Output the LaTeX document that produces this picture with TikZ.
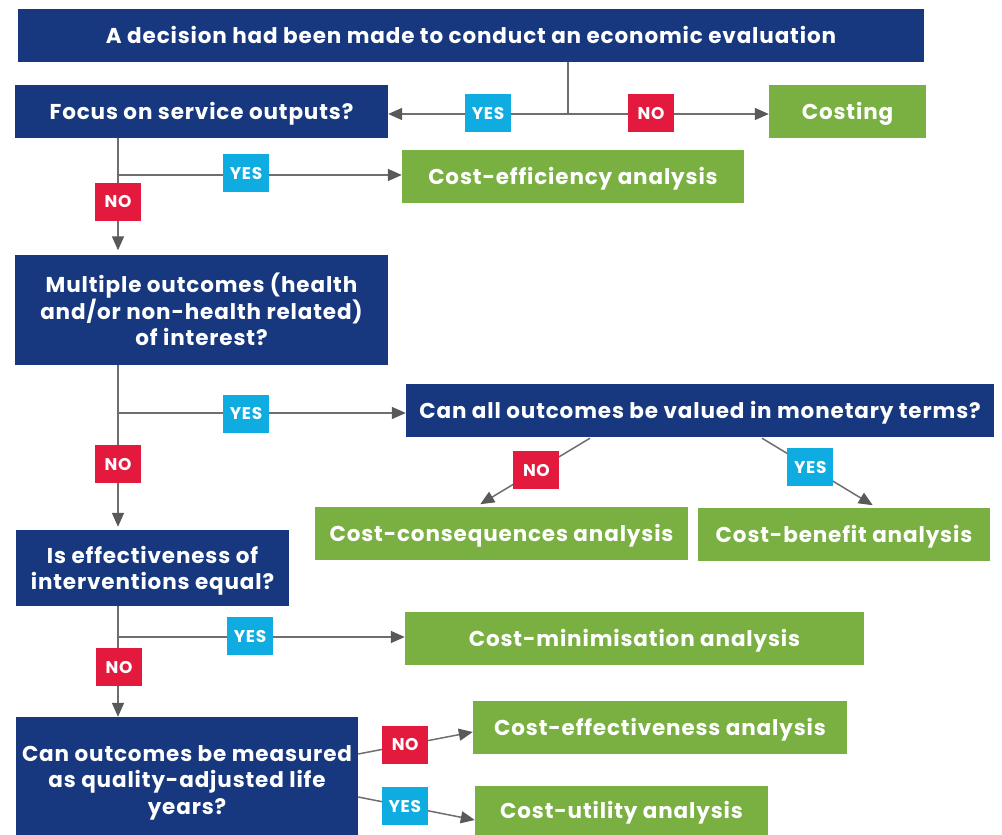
\documentclass[tikz,border=0pt]{standalone}
\usepackage{fontspec}
\setmainfont{Poppins}[LetterSpace=4]
\usetikzlibrary{arrows.meta}
\definecolor{navy}{HTML}{17387E}
\definecolor{leaf}{HTML}{7AB042}
\definecolor{redtag}{HTML}{E3193E}
\definecolor{cyantag}{HTML}{0FACE1}
\definecolor{wire}{HTML}{6E6E6E}
\definecolor{tip}{HTML}{58595B}
\tikzset{
  boxtext/.style={font=\bfseries\fontsize{21.5}{26.5}\selectfont, text=white, align=center,
    inner sep=0pt},
  oneline/.style={text height=15pt, text depth=0pt},
  % height of the text block, from top of first capitals to last baseline
  textblock/.style={text height=#1, text depth=0pt},
  question/.style={boxtext, fill=navy},
  result/.style={boxtext, oneline, fill=leaf},
  tag/.style={font=\bfseries\fontsize{17}{18}\selectfont, text=white, inner sep=0pt,
    text height=12pt, text depth=0pt, minimum width=46pt, minimum height=38pt},
  yestag/.style={tag, fill=cyantag},
  notag/.style={tag, fill=redtag},
  wirestyle/.style={draw=wire, line width=1.5pt},
  arr/.style={wirestyle, -{Triangle[length=14pt,width=12pt,fill=tip,color=tip]}},
}
\begin{document}
\begin{tikzpicture}[x=1pt,y=-1pt]
\useasboundingbox (0,0) rectangle (1002,835);

% decision boxes
\node[question, oneline, minimum width=906pt, minimum height=53pt] (top) at (471,35.5)
  {A decision had been made to conduct an economic evaluation};
\node[question, oneline, minimum width=373pt, minimum height=53pt] (focus) at (201.5,111.5)
  {Focus on service outputs?};
\node[question, textblock=72pt, minimum width=373pt, minimum height=110pt] (multi) at (201.5,309.5)
  {Multiple outcomes (health\\and/or non-health related)\\of interest?};
\node[question, oneline, minimum width=588pt, minimum height=53pt] (monet) at (700,410.5)
  {Can all outcomes be valued in monetary terms?};
\node[question, textblock=43.5pt, minimum width=273pt, minimum height=76pt] (equal) at (152.5,568)
  {Is effectiveness of\\interventions equal?};
\node[question, textblock=76pt, minimum width=342pt, minimum height=118pt] (qaly) at (187,776)
  {Can outcomes be measured\\as quality-adjusted life\\years?};

% analysis types
\node[result, minimum width=157pt, minimum height=53pt] (costing) at (847.5,111.5) {Costing};
\node[result, minimum width=342pt, minimum height=53pt] (effic) at (573,176.5) {Cost-efficiency analysis};
\node[result, minimum width=373pt, minimum height=53pt] (conseq) at (501.5,533.5) {Cost-consequences analysis};
\node[result, minimum width=292pt, minimum height=53pt] (benefit) at (844,534.5) {Cost-benefit analysis};
\node[result, minimum width=459pt, minimum height=53pt] (minim) at (634.5,638.5) {Cost-minimisation analysis};
\node[result, minimum width=374pt, minimum height=53pt] (effect) at (660,727.5) {Cost-effectiveness analysis};
\node[result, minimum width=293pt, minimum height=50pt] (utility) at (621.5,811) {Cost-utility analysis};

% junction points on the trunk lines
\coordinate (j1) at (568,114);
\coordinate (j2) at (118,175);
\coordinate (j3) at (118,413);
\coordinate (j4) at (118,637);

% first split
\draw[wirestyle] (top.south -| j1) -- (j1);
\draw[arr] (j1) -- (j1 -| focus.east);
\draw[arr] (j1) -- (j1 -| costing.west);
\node[yestag] (y1) at (488,113) {YES};
\node[notag] (n1) at (651,113) {NO};

% service outputs
\draw[arr, shorten >=4pt] (focus.south -| j2) -- (multi.north -| j2);
\draw[arr] (j2) -- (j2 -| effic.west);
\node[yestag] (y2) at (246,173) {YES};
\node[notag] (n2) at (118,201.5) {NO};

% multiple outcomes
\draw[arr, shorten >=3pt] (multi.south -| j3) -- (equal.north -| j3);
\draw[arr] (j3) -- (j3 -| monet.west);
\node[yestag] (y3) at (246,413.5) {YES};
\node[notag] (n3) at (118,464) {NO};

% monetary valuation
\draw[arr, shorten >=5pt] ([xshift=-110pt,yshift=-1pt]monet.south) -- ([xshift=-25.5pt]conseq.north)
  node[notag, pos=0.47] (n4) {NO};
\draw[arr, shorten >=5pt] ([xshift=62pt,yshift=-1pt]monet.south) -- ([xshift=33pt]benefit.north)
  node[yestag, pos=0.42] (y4) {YES};

% equal effectiveness
\draw[arr] (equal.south -| j4) -- (qaly.north -| j4);
\draw[arr] (j4) -- (j4 -| minim.west);
\node[yestag] (y5) at (250,636) {YES};
\node[notag] (n5) at (119,667) {NO};

% QALY question
\draw[arr] ([yshift=22pt]qaly.east) -- ([yshift=-4.5pt]effect.west)
  node[notag, pos=0.41] (n6) {NO};
\draw[arr] ([yshift=-21pt]qaly.east) -- ([yshift=-9pt]utility.west)
  node[yestag, pos=0.4] (y6) {YES};
\end{tikzpicture}
\end{document}
